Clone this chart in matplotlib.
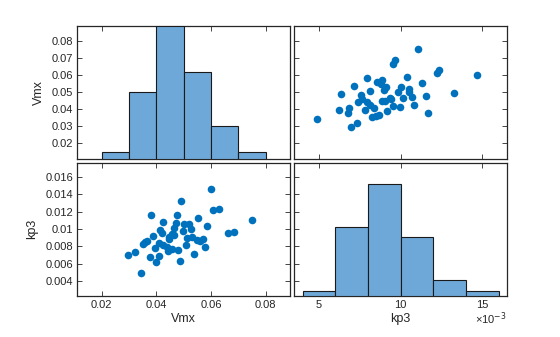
import numpy as np
import matplotlib
matplotlib.use("Agg")
import matplotlib.pyplot as plt
from matplotlib.ticker import FuncFormatter

plt.rcParams['font.family'] = ['Liberation Sans', 'DejaVu Sans']

# sample values (Vmx, kp3)
vmx = [0.0602, 0.0492, 0.0379, 0.0477, 0.0423, 0.0554, 0.0609, 0.0631, 0.0751,
       0.0587, 0.0662, 0.0686, 0.0471, 0.0463, 0.0502, 0.0518, 0.0526, 0.0497,
       0.0414, 0.0419, 0.0386, 0.0367, 0.0357, 0.0351, 0.0457, 0.0465, 0.0445,
       0.0448, 0.0408, 0.0395, 0.0426, 0.0439, 0.0459, 0.0442, 0.0481, 0.0512,
       0.0530, 0.0548, 0.0560, 0.0572, 0.0508, 0.0580, 0.0295, 0.0320, 0.0375,
       0.0408, 0.0397, 0.0485, 0.0537, 0.0342]
kp3 = [0.01468, 0.01328, 0.01165, 0.01157, 0.01084, 0.01130, 0.01223, 0.01235, 0.01107,
       0.01037, 0.00956, 0.00967, 0.01072, 0.01014, 0.01053, 0.01053, 0.01003, 0.00983,
       0.00994, 0.00956, 0.00917, 0.00866, 0.00847, 0.00827, 0.00944, 0.00936, 0.00886,
       0.00905, 0.00839, 0.00781, 0.00812, 0.00792, 0.00765, 0.00742, 0.00757, 0.00897,
       0.00909, 0.00878, 0.00858, 0.00886, 0.00812, 0.00792, 0.00699, 0.00734, 0.00676,
       0.00684, 0.00622, 0.00634, 0.00715, 0.00490]

vmx_bins = [0.02, 0.03, 0.04, 0.05, 0.06, 0.07, 0.08]
kp3_bins = [0.004, 0.006, 0.008, 0.010, 0.012, 0.014, 0.016]

vmx_lim = (0.0110, 0.0888)
kp3_xlim = (0.00349, 0.01649)
kp3_ylim = (0.00225, 0.0177)
vmx_ticks = [0.02, 0.04, 0.06, 0.08]
vmx_yticks = [0.02, 0.03, 0.04, 0.05, 0.06, 0.07, 0.08]
kp3_xticks = [0.005, 0.010, 0.015]
kp3_yticks = [0.004, 0.006, 0.008, 0.010, 0.012, 0.014, 0.016]

txt = '#262626'
dot = '#0072bd'
barc = '#6ea8d8'

fig = plt.figure(figsize=(5.6, 3.37), dpi=100)
x0, x1, w = 0.138, 0.5255, 0.379
yb, yt, h = 0.1217, 0.5282, 0.396
ax_tl = fig.add_axes([x0, yt, w, h])
ax_tr = fig.add_axes([x1, yt, w, h])
ax_bl = fig.add_axes([x0, yb, w, h])
ax_br = fig.add_axes([x1, yb, w, h])

gfmt = FuncFormatter(lambda v, p: '%g' % round(v, 6))

for ax in (ax_tl, ax_tr, ax_bl, ax_br):
    ax.tick_params(direction='in', length=3.5, width=0.6, top=True, right=True,
                   labelsize=8, colors=txt, pad=3)
    for s in ax.spines.values():
        s.set_linewidth(0.9)
        s.set_color(txt)

# scatter panels
ax_tr.scatter(kp3, vmx, s=30, color=dot, linewidths=0)
ax_bl.scatter(vmx, kp3, s=30, color=dot, linewidths=0)

# column / row limits
for ax in (ax_tl, ax_bl):
    ax.set_xlim(vmx_lim)
    ax.set_xticks(vmx_ticks)
for ax in (ax_tr, ax_br):
    ax.set_xlim(kp3_xlim)
    ax.set_xticks(kp3_xticks)
for ax in (ax_tl, ax_tr):
    ax.set_ylim(vmx_lim[0] - 0.0003, vmx_lim[1] + 0.0001)
    ax.set_yticks(vmx_yticks)
for ax in (ax_bl, ax_br):
    ax.set_ylim(kp3_ylim)
    ax.set_yticks(kp3_yticks)

for ax in (ax_tl, ax_tr):
    ax.tick_params(labelbottom=False)
for ax in (ax_tr, ax_br):
    ax.tick_params(labelleft=False)

ax_tl.yaxis.set_major_formatter(gfmt)
ax_bl.yaxis.set_major_formatter(gfmt)
ax_bl.xaxis.set_major_formatter(gfmt)
ax_br.xaxis.set_major_formatter(FuncFormatter(lambda v, p: '%g' % round(v * 1000, 3)))

# histograms on the diagonal
h1 = ax_tl.twinx()
h1.hist(vmx, bins=vmx_bins, color=barc, edgecolor='#1a1a1a', linewidth=0.8)
h1.set_ylim(0, 20)
h2 = ax_br.twinx()
h2.hist(kp3, bins=kp3_bins, color=barc, edgecolor='#1a1a1a', linewidth=0.8)
h2.set_ylim(0, 25)
for hx in (h1, h2):
    hx.set_yticks([])
    for s in hx.spines.values():
        s.set_visible(False)

ax_tl.set_ylabel('Vmx', fontsize=9, color=txt, labelpad=5)
ax_bl.set_ylabel('kp3', fontsize=9, color=txt, labelpad=5)
ax_bl.set_xlabel('Vmx', fontsize=9, color=txt, labelpad=2)
ax_br.set_xlabel('kp3', fontsize=9, color=txt, labelpad=2)
ax_br.text(1.0, -0.17, '×10$^{-3}$', transform=ax_br.transAxes, fontsize=8,
           color=txt, ha='right', va='center')

fig.savefig('out.png', dpi=100)
